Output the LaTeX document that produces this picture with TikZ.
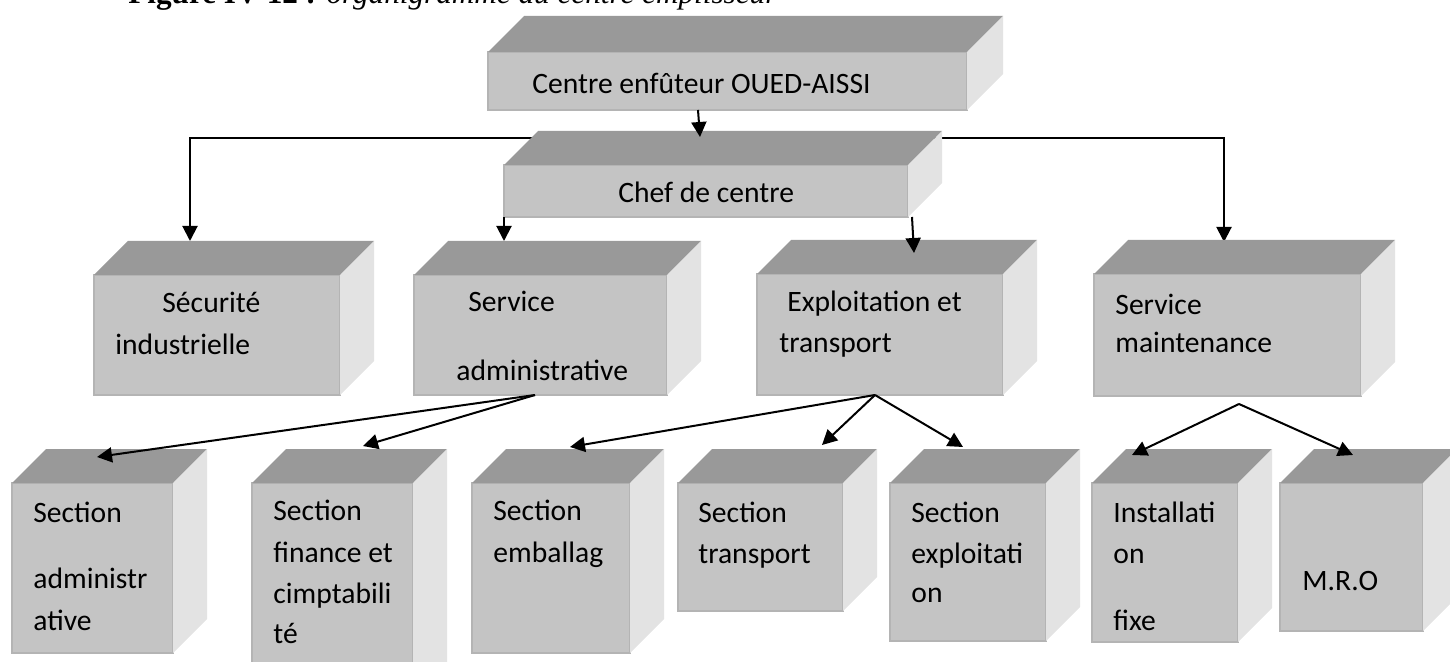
\documentclass[tikz,border=0pt]{standalone}
\usepackage{fontspec}
\setmainfont{Carlito}
\newfontfamily\capfont{Liberation Serif}
\usetikzlibrary{calc,arrows.meta}
\pgfdeclarelayer{background}
\pgfsetlayers{background,main}

\definecolor{facefront}{RGB}{196,196,196}
\definecolor{facetop}{RGB}{153,153,153}
\definecolor{faceside}{RGB}{227,227,227}
\definecolor{faceedge}{RGB}{180,180,180}

\tikzset{
  front/.style={fill=facefront, draw=faceedge, line width=0.7pt, inner sep=0pt,
    outer sep=0pt, anchor=north west},
  topface/.style={fill=facetop},
  sideface/.style={fill=faceside},
  lbl/.style={anchor=base west, inner sep=0pt, font=\fontsize{14.8}{17}\selectfont},
  conn/.style={line width=1pt},
  arr/.style={conn, -{Triangle[length=7.5pt,width=7.5pt]}},
}

% 3-D box: name, left, top, right, bottom of the front face, depth
\newcommand\orgbox[6]{%
  \node[front, minimum width={(#4-#2)*0.5pt}, minimum height={(#5-#3)*0.5pt}] (#1) at (#2,#3) {};
  \fill[topface] (#1.north west) -- ++(#6,-#6) -- ($(#1.north east)+(#6,-#6)$)
    -- (#1.north east) -- cycle;
  \fill[sideface] (#1.north east) -- ++(#6,-#6) -- ($(#1.south east)+(#6,-#6)$)
    -- (#1.south east) -- cycle;
}

\begin{document}
\begin{tikzpicture}[x=0.5pt,y=-0.5pt]
\useasboundingbox (0,0) rectangle (1450,662);

% caption (runs off the top edge of the page)
\node[anchor=base west, inner sep=0pt, font=\capfont\fontsize{15.6}{18}\selectfont] (caption)
  at (128,4) {\textbf{Figure IV-12 :} \textit{organigramme du centre emplisseur}};

% boxes
\orgbox{top}{488}{52}{967}{110}{36}
\orgbox{chef}{504}{165}{908}{217}{34}
\orgbox{secu}{94}{275}{340}{395}{34}
\orgbox{adm}{414}{275}{667}{395}{34}
\orgbox{expl}{757}{274}{1003}{395}{34}
\orgbox{maint}{1094}{274}{1361}{396}{34}
\orgbox{sadm}{12}{483}{173}{653}{34}
\orgbox{sfin}{252}{483}{413}{700}{34}
\orgbox{semb}{472}{483}{630}{653}{34}
\orgbox{strans}{678}{483}{843}{611}{34}
\orgbox{sexp}{890}{483}{1046}{641}{34}
\orgbox{inst}{1092}{483}{1238}{642}{34}
\orgbox{mro}{1280}{483}{1423}{631}{34}

% labels
\node[lbl] (topL) at (532,94) {Centre enfûteur OUED-AISSI};
\node[lbl] (chefL) at (618,203) {Chef de centre};
\node[lbl] (secuL1) at (162,313) {Sécurité};
\node[lbl] (secuL2) at (115,355) {industrielle};
\node[lbl] (admL1) at (468,312) {Service};
\node[lbl] (admL2) at (456,380) {administrative};
\node[lbl] (explL1) at (787,312) {Exploitation et};
\node[lbl] (explL2) at (779,353) {transport};
\node[lbl] (maintL1) at (1115,315) {Service};
\node[lbl] (maintL2) at (1115,353) {maintenance};
\node[lbl] (sadmL1) at (33,522) {Section};
\node[lbl] (sadmL2) at (33,588) {administr};
\node[lbl] (sadmL3) at (33,630) {ative};
\node[lbl] (sfinL1) at (273,520) {Section};
\node[lbl] (sfinL2) at (273,562) {finance et};
\node[lbl] (sfinL3) at (273,603) {cimptabili};
\node[lbl] (sfinL4) at (273,643) {té};
\node[lbl] (sembL1) at (493,520) {Section};
\node[lbl] (sembL2) at (493,562) {emballag};
\node[lbl] (stransL1) at (698,522) {Section};
\node[lbl] (stransL2) at (698,563) {transport};
\node[lbl] (sexpL1) at (911,522) {Section};
\node[lbl] (sexpL2) at (911,563) {exploitati};
\node[lbl] (sexpL3) at (911,602) {on};
\node[lbl] (instL1) at (1113,522) {Installati};
\node[lbl] (instL2) at (1113,563) {on};
\node[lbl] (instL3) at (1113,630) {fixe};
\node[lbl] (mroL) at (1302,590) {M.R.O};

% top -> chef
\draw[arr] ($(top.south west)+(210,0)$) -- ($(chef.north west)+(196,-28)$);

% distribution line running behind the chef box
\coordinate (hub) at ($(chef.north)+(0,-27)$);
\begin{pgfonlayer}{background}
\draw[arr] (hub) -| ($(secu.north west)+(96,-34)$);
\draw[arr] (hub) -| ($(maint.north west)+(130,-32)$);
\end{pgfonlayer}

% chef -> services
\draw[arr] (chef.south west) -- ($(adm.north west)+(90,-34)$);
\draw[arr] ($(chef.south west)+(408,0)$) -- ($(expl.north west)+(157,-21)$);

% service administrative -> sections
\coordinate (admFan) at ($(adm.south west)+(121,0)$);
\draw[arr] (admFan) -- ($(sadm.north west)+(85,-26)$);
\draw[arr] (admFan) -- ($(sfin.north west)+(111,-37)$);

% exploitation -> sections
\coordinate (explFan) at ($(expl.south west)+(118,0)$);
\draw[arr] (explFan) -- ($(semb.north west)+(98,-36)$);
\draw[arr] (explFan) -- ($(strans.north west)+(144,-38)$);
\draw[arr] (explFan) -- ($(sexp.north west)+(73,-36)$);

% maintenance -> sections
\coordinate (maintFan) at ($(maint.south west)+(145,8)$);
\draw[arr] (maintFan) -- ($(inst.north west)+(40,-28)$);
\draw[arr] (maintFan) -- ($(mro.north west)+(73,-28)$);
\end{tikzpicture}
\end{document}
